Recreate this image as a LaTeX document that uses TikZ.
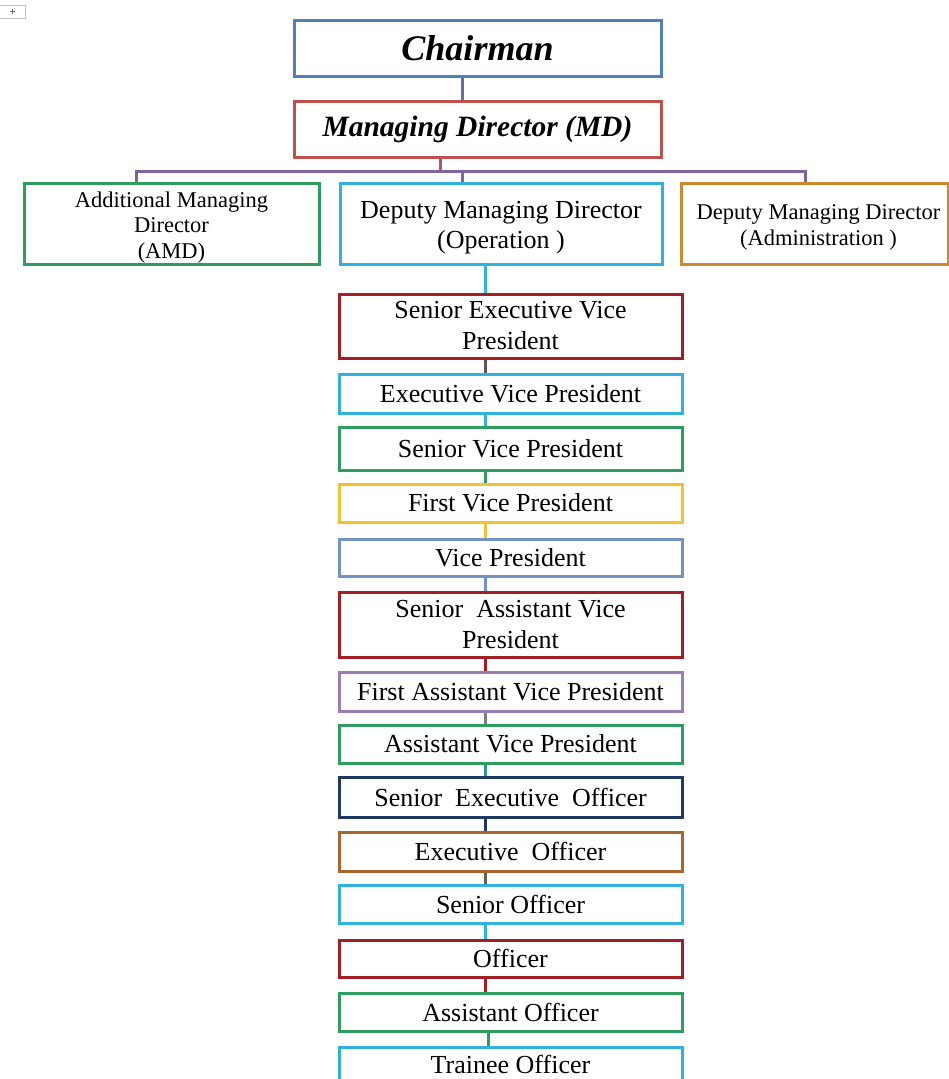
\documentclass[tikz,border=0pt]{standalone}
\usepackage{fontspec}
\setmainfont{Liberation Serif}
\usetikzlibrary{backgrounds}
\definecolor{cblue}{HTML}{4F81BD}
\definecolor{cred}{HTML}{C0504D}
\definecolor{cpurple}{HTML}{8064A2}
\definecolor{cgreen}{HTML}{2E9E5E}
\definecolor{ccyan}{HTML}{31B2DE}
\definecolor{corange}{HTML}{CC8A2E}
\definecolor{cdred}{HTML}{A31F24}
\definecolor{cyellow}{HTML}{F2C232}
\definecolor{csteel}{HTML}{6F94C4}
\definecolor{clilac}{HTML}{9B7DB5}
\definecolor{cnavy}{HTML}{1F3A60}
\definecolor{cbrown}{HTML}{A8662E}
\definecolor{lchair}{HTML}{5B6FA8}
\definecolor{lmd}{HTML}{A35A75}
\definecolor{lgrey}{HTML}{6B5050}
\definecolor{lgpur}{HTML}{7E7891}
\definecolor{lteal}{HTML}{2A9D8F}
\definecolor{lbrgr}{HTML}{6B5A48}
\begin{document}
\begin{tikzpicture}[x=1pt,y=-1pt,
  box/.style={draw, line width=3pt, fill=white, inner sep=0pt, align=center},
  link/.style={line width=3pt},
  rank/.style={box, minimum width=343pt, font=\fontsize{26}{31}\selectfont},
  dmd/.style={box, minimum height=81pt},
  dtext/.style={inner sep=0pt, align=center, font=\fontsize{22.5}{25.5}\selectfont},
]
\useasboundingbox (0,0) rectangle (949,1079);
% small table handle
\draw[gray!50, line width=0.8pt] (0,5) -- (25,5) -- (25,18) -- (0,18);
\draw[gray!80!black, line width=0.8pt] (9.5,11) -- (14.5,11) (12,8.5) -- (12,13.5);

\node[box, draw=cblue, minimum width=367pt, minimum height=56pt,
  font=\fontsize{36}{40}\selectfont\bfseries\itshape] (chair) at (477.5,48) {Chairman};
\node[box, draw=cred, minimum width=367pt, minimum height=56pt,
  font=\fontsize{29.5}{33}\selectfont\bfseries\itshape] (md) at (477.5,129) {Managing Director (MD)};

\node[dmd, draw=cgreen, minimum width=295pt] (amd) at (171.5,223.5) {};
\node[dtext] (amdt) at ([yshift=-4pt]amd.center) {Additional Managing\\Director\\(AMD)};
\node[dmd, draw=ccyan, minimum width=322pt] (op) at (501,223.5) {};
\node[dtext, font=\fontsize{26}{30}\selectfont] (opt) at ([yshift=-4pt]op.center) {Deputy Managing Director\\(Operation )};
\node[dmd, draw=corange, minimum width=267pt] (adm) at (814.5,223.5) {};
\node[dtext, font=\fontsize{22.5}{26}\selectfont] (admt) at ([xshift=4pt,yshift=-4pt]adm.center) {Deputy Managing Director\\(Administration )};

\node[rank, draw=cdred, minimum height=64pt] (sevp) at (510.5,326) {Senior Executive Vice\\President};
\node[rank, draw=ccyan, minimum height=39pt] (evp) at (510.5,393.5) {Executive Vice President};
\node[rank, draw=cgreen, minimum height=43pt] (svp) at (510.5,448.5) {Senior Vice President};
\node[rank, draw=cyellow, minimum height=38pt] (fvp) at (510.5,503) {First Vice President};
\node[rank, draw=csteel, minimum height=37pt] (vp) at (510.5,557.5) {Vice President};
\node[rank, draw=cdred, minimum height=65pt] (savp) at (510.5,624.5) {Senior\ \ Assistant Vice\\President};
\node[rank, draw=clilac, minimum height=39pt] (favp) at (510.5,691.5) {First Assistant Vice President};
\node[rank, draw=cgreen, minimum height=38pt] (avp) at (510.5,744) {Assistant Vice President};
\node[rank, draw=cnavy, minimum height=40pt] (seo) at (510.5,797) {Senior\ \ Executive\ \ Officer};
\node[rank, draw=cbrown, minimum height=39pt] (eo) at (510.5,851.5) {Executive\ \ Officer};
\node[rank, draw=ccyan, minimum height=38pt] (so) at (510.5,904) {Senior Officer};
\node[rank, draw=cdred, minimum height=37pt] (off) at (510.5,958.5) {Officer};
\node[rank, draw=cgreen, minimum height=38pt] (ao) at (510.5,1012) {Assistant Officer};
\node[rank, draw=ccyan, minimum height=40pt] (to) at (510.5,1067) {\raisebox{5pt}{Trainee Officer}};

\coordinate (busL) at (136,171);
\coordinate (busR) at (805,171);
\coordinate (opdrop) at (462,171);
\coordinate (mdout) at (440,171);
\coordinate (spine) at (485,0);
\coordinate (spineb) at (488,0);

\begin{scope}[on background layer]
\draw[link, lchair] (chair.south -| opdrop) -- (md.north -| opdrop);
\draw[link, lmd] (md.south -| mdout) -- (mdout);
\draw[link, cpurple, line join=miter] (amd.north -| busL) -- (busL) -- (busR) -- (adm.north -| busR);
\draw[link, cpurple] (opdrop) -- (op.north -| opdrop);
\draw[link, ccyan] (op.south -| spine) -- (sevp.north -| spine);
\draw[link, lgrey] (sevp.south -| spine) -- (evp.north -| spine);
\draw[link, ccyan] (evp.south -| spine) -- (svp.north -| spine);
\draw[link, cgreen] (svp.south -| spine) -- (fvp.north -| spine);
\draw[link, cyellow] (fvp.south -| spine) -- (vp.north -| spine);
\draw[link, csteel] (vp.south -| spine) -- (savp.north -| spine);
\draw[link, cdred] (savp.south -| spine) -- (favp.north -| spine);
\draw[link, lgpur] (favp.south -| spine) -- (avp.north -| spine);
\draw[link, lteal] (avp.south -| spine) -- (seo.north -| spine);
\draw[link, cnavy] (seo.south -| spine) -- (eo.north -| spine);
\draw[link, lbrgr] (eo.south -| spine) -- (so.north -| spine);
\draw[link, ccyan] (so.south -| spine) -- (off.north -| spine);
\draw[link, cdred] (off.south -| spine) -- (ao.north -| spine);
\draw[link, cgreen] (ao.south -| spineb) -- (to.north -| spineb);
\end{scope}
\end{tikzpicture}
\end{document}
